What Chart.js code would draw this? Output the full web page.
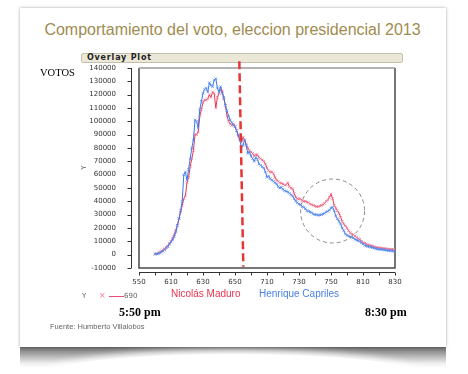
<!DOCTYPE html>
<html><head><meta charset="utf-8">
<script src="https://cdn.jsdelivr.net/npm/chart.js@4/dist/chart.umd.min.js"></script>
<style>
html,body{margin:0;padding:0;background:#fff;width:468px;height:374px;overflow:hidden;}
#wrap{position:relative;width:468px;height:374px;}
#shadow{position:absolute;left:20px;top:345px;width:426px;height:23px;background:linear-gradient(#5e5e5e,rgba(150,150,150,0.15) 80%,rgba(255,255,255,0));}
#shadowcut{position:absolute;left:50px;top:354px;width:366px;height:40px;border-radius:50%;background:#fff;box-shadow:0 0 7px 4px #fff;}
#card{position:absolute;left:20px;top:8px;width:426px;height:339px;background:#fff;box-shadow:0 0 3px rgba(0,0,0,0.35);}
#bar{position:absolute;left:81px;top:53px;width:320px;height:8px;background:#ebe8d8;border:1px solid #c4c0ae;border-radius:2px;}
canvas{position:absolute;left:0;top:0;}
.t{position:absolute;white-space:nowrap;}
</style>
</head><body>
<div id="wrap">
<div id="shadow"></div>
<div id="shadowcut"></div>
<div id="card"></div>
<div id="bar"></div>
<div class="t" style="left:87px;top:53px;font:bold 8px 'DejaVu Sans';letter-spacing:0.8px;color:#222;line-height:9px;">Overlay Plot</div>
<div class="t" style="left:0;width:465px;text-align:center;top:21px;font:16px 'Liberation Sans';line-height:18px;color:#a08c50;">Comportamiento del voto, eleccion presidencial 2013</div>
<canvas id="c" width="468" height="374"></canvas>
<div class="t" style="left:40px;top:66px;font:10.5px 'Liberation Serif';line-height:13px;color:#000;">VOTOS</div>
<div class="t" style="left:82px;top:163px;font:7px 'DejaVu Sans';line-height:9px;color:#666;transform:rotate(-90deg);">Y</div>
<div class="t" style="left:82px;top:292px;font:7px 'DejaVu Sans';line-height:9px;color:#666;">Y</div>
<div class="t" style="left:99px;top:291px;font:8px 'DejaVu Sans';line-height:10px;color:#f07a96;">×</div>
<div style="position:absolute;left:109px;top:296px;width:15px;height:1px;background:#e8506e;"></div>
<div class="t" style="left:124px;top:292px;font:7px 'DejaVu Sans';line-height:9px;color:#666;">690</div>
<div class="t" style="left:171px;top:288px;font:10px 'Liberation Sans';line-height:12px;color:#e8344e;">Nicolás Maduro</div>
<div class="t" style="left:259px;top:288px;font:10px 'Liberation Sans';line-height:12px;color:#4a7fe0;">Henrique Capriles</div>
<div class="t" style="left:119px;top:305px;font:bold 12px 'Liberation Serif';line-height:15px;color:#000;">5:50 pm</div>
<div class="t" style="left:365px;top:305px;font:bold 12px 'Liberation Serif';line-height:15px;color:#000;">8:30 pm</div>
<div class="t" style="left:50px;top:322px;font:7.5px 'Liberation Sans';line-height:10px;color:#666;">Fuente: Humberto Villalobos</div>
</div>
<script>
// minutes after 5:50 pm
const minutes = [10,11,12,13,14,15,16,17,18,19,20,21,22,23,24,25,26,27,28,29,30,31,32,33,34,35,36,37,38,39,40,41,42,43,44,45,46,47,48,49,50,51,52,53,54,55,56,57,58,59,60,61,62,63,64,65,66,67,68,69,70,71,72,73,74,75,76,77,78,79,80,81,82,83,84,85,86,87,88,89,90,91,92,93,94,95,96,97,98,99,100,101,102,103,104,105,106,107,108,109,110,111,112,113,114,115,116,117,118,119,120,121,122,123,124,125,126,127,128,129,130,131,132,133,134,135,136,137,138,139,140,141,142,143,144,145,146,147,148,149,150,151,152,153,154,155,156,157,158,159,160];
const maduro = [500,800,1200,2000,2800,3500,4500,5500,6500,8500,10000,12500,15000,18500,22000,27000,32000,37000,42000,44000,54000,58000,66000,72000,78000,90000,90000,92000,104000,109000,114000,116000,116000,117000,120000,118000,122000,121000,110000,118000,121000,124000,123000,117000,112000,104000,100000,98000,97000,98000,96000,93000,89000,87000,84000,88000,86000,83000,80000,78000,77000,76000,74000,75000,75000,73000,72000,71000,70000,68000,65000,63000,62000,62000,61000,58000,56000,55000,54000,53500,53000,52000,52500,54000,51000,50000,49500,46000,43000,42000,41500,42000,40500,40000,40000,39500,39000,38000,37500,37000,36500,36000,36000,36500,37000,37500,38500,40000,41000,43000,45500,42000,37000,35000,33000,31000,28000,25000,23000,21500,20000,18000,16500,15500,15000,14000,13000,12000,11500,10000,9000,8500,8000,7500,7000,6800,6500,6000,5500,5300,5200,5000,4800,4700,4500,4300,4200,4100,4000,3900,3800];
const capriles = [300,500,800,1200,2000,2600,3800,5000,6000,7800,9500,11000,13500,17000,22000,27000,33000,40000,60000,62000,56000,64000,72000,80000,86000,101000,100000,95000,109000,115000,121000,124000,125000,122000,129000,127000,126000,131000,132000,125000,122000,126000,121000,118000,112000,108000,104000,101000,99000,97000,96000,93000,90000,86000,80000,82000,86000,82000,76000,77000,74000,72000,70000,73000,71500,68000,67000,66000,65000,62000,58000,59000,57000,56000,55000,54000,53000,51000,50000,50500,49000,48000,47500,47000,46000,45000,44000,42000,40000,39000,38000,37500,36000,35500,34500,33000,32500,32000,31500,30500,30000,30000,29500,29800,30000,30500,31000,32000,32500,33500,35000,35500,33000,29000,27000,25000,23000,20000,18000,15500,14500,14000,13500,13000,12500,11500,11000,10500,10000,9000,8000,7000,6500,6200,6000,5500,5300,5000,4500,4200,4000,4000,3800,3600,3500,3200,3000,3000,2800,2600,2500];
const xTickLabels = ['550','610','630','650','710','730','750','810','830'];
const cutLineX = [62.7, 65.2];
const cutLineY = [145000, -9000];
const circleCenter = [121, 32750];
const circleRadius = [20, 24000];

const decor = {
  id: 'decor',
  beforeDatasetsDraw(chart) {
    const {ctx, chartArea: a, scales: {x, y}} = chart;
    ctx.save();
    ctx.lineWidth = 1.5;
    ctx.strokeStyle = '#4a4a4a';
    ctx.beginPath();
    ctx.moveTo(a.left, a.top); ctx.lineTo(a.left, a.bottom); ctx.lineTo(a.right, a.bottom); ctx.lineTo(a.right, a.top);
    ctx.stroke();
    ctx.strokeStyle = '#9a9a9a';
    ctx.beginPath(); ctx.moveTo(a.left, a.top); ctx.lineTo(a.right, a.top); ctx.stroke();
    ctx.lineWidth = 1;
    ctx.strokeStyle = '#333';
    ctx.beginPath();
    const ax = a.left - 7.5;
    ctx.moveTo(ax, y.getPixelForValue(y.max)); ctx.lineTo(ax, y.getPixelForValue(y.min));
    y.ticks.forEach(t => { const p = Math.round(y.getPixelForValue(t.value)) + 0.5; ctx.moveTo(ax - 4, p); ctx.lineTo(ax, p); });
    const ay = a.bottom + 4.5;
    ctx.moveTo(x.getPixelForValue(x.min), ay); ctx.lineTo(x.getPixelForValue(x.max), ay);
    x.ticks.forEach(t => { const p = Math.round(x.getPixelForValue(t.value)) + 0.5; ctx.moveTo(p, ay); ctx.lineTo(p, ay + 3); });
    ctx.stroke();
    ctx.restore();
  },
  afterDatasetsDraw(chart) {
    const {ctx, scales: {x, y}} = chart;
    const cx = x.getPixelForValue(circleCenter[0]), cy = y.getPixelForValue(circleCenter[1]);
    const rx = x.getPixelForValue(circleCenter[0] + circleRadius[0]) - cx;
    const ry = cy - y.getPixelForValue(circleCenter[1] + circleRadius[1]);
    ctx.save();
    ctx.strokeStyle = '#8a8a8a'; ctx.lineWidth = 1; ctx.setLineDash([4, 3]);
    ctx.beginPath(); ctx.ellipse(cx, cy, rx, ry, 0, 0, Math.PI * 2); ctx.stroke();
    ctx.restore();
  }
};

new Chart(document.getElementById('c'), {
  type: 'line',
  data: {
    datasets: [
      { data: cutLineX.map((v, i) => ({x: v, y: cutLineY[i]})), borderColor: '#e53535', borderWidth: 2.5, borderDash: [8, 4], pointRadius: 0, clip: false },
      { label: 'Henrique Capriles', data: minutes.map((m, i) => ({x: m, y: capriles[i]})), borderColor: '#3b78e6', borderWidth: 1, pointStyle: 'crossRot', pointRadius: 1.8, pointBorderWidth: 1, pointBorderColor: 'rgba(90,140,240,0.8)', tension: 0 },
      { label: 'Nicolás Maduro', data: minutes.map((m, i) => ({x: m, y: maduro[i]})), borderColor: '#e8344e', borderWidth: 1, pointStyle: 'crossRot', pointRadius: 1.8, pointBorderWidth: 1, pointBorderColor: 'rgba(240,120,150,0.8)', tension: 0 }
    ]
  },
  options: {
    responsive: false, animation: false,
    layout: { padding: { left: 69, right: 73, top: 68, bottom: 86 } },
    plugins: { legend: { display: false }, tooltip: { enabled: false } },
    scales: {
      x: {
        type: 'linear', min: 0, max: 160,
        afterFit: s => { s.height = 20; },
        grid: { display: false }, border: { display: false },
        ticks: { stepSize: 10, autoSkip: false, maxRotation: 0, padding: 2, color: '#333', font: { family: 'DejaVu Sans', size: 7 },
          callback: v => (v % 20 === 0 ? xTickLabels[v / 20] : '') }
      },
      y: {
        min: -10000, max: 140000,
        afterFit: s => { s.width = 70; },
        grid: { display: false }, border: { display: false },
        ticks: { stepSize: 10000, padding: 15, color: '#333', font: { family: 'DejaVu Sans', size: 7 }, callback: v => String(v) }
      }
    }
  },
  plugins: [decor]
});
</script>
</body></html>
